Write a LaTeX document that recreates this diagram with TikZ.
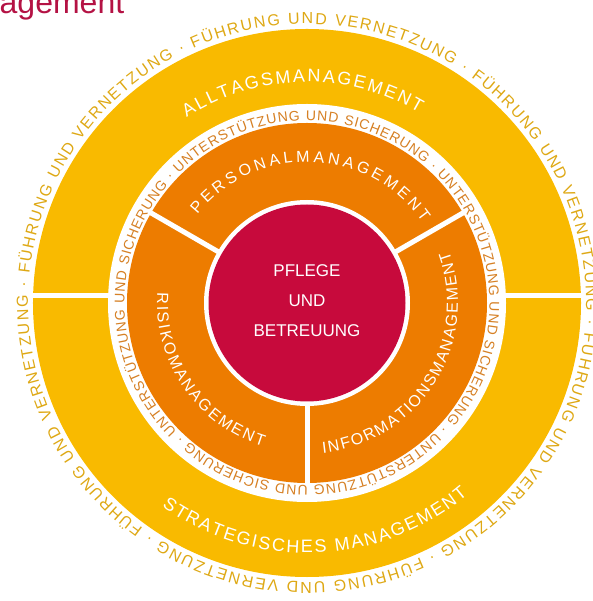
\documentclass[tikz,border=0pt]{standalone}
\usepackage{fontspec}
\setmainfont{Liberation Sans}
\usetikzlibrary{decorations.text}
\definecolor{ringyellow}{RGB}{249,186,0}
\definecolor{ringorange}{RGB}{237,124,0}
\definecolor{corered}{RGB}{199,10,60}
\definecolor{titlered}{RGB}{180,18,68}
\definecolor{outertext}{RGB}{222,168,20}
\definecolor{bandtext}{RGB}{214,128,36}
\begin{document}
\begin{tikzpicture}[x=1pt,y=1pt,
  divider/.style={draw=white,line width=5pt},
  arctext/.style={decorate,decoration={text along path,text align={fit to path},text={#1}}},
  centertext/.style={text=white,font=\fontsize{17}{20}\selectfont,inner sep=0pt,anchor=base},
]
\useasboundingbox (-307,-298) rectangle (285,303);
\clip (-307,-298) rectangle (285,303);

% heading fragment
\node[anchor=base west,inner sep=0pt,text=titlered,font=\fontsize{32}{36}\selectfont] (title) at (-307.5,289) {agement};

% rings
\fill[ringyellow] (0,0) circle[radius=274];
\fill[white] (0,0) circle[radius=199];
\fill[ringorange] (0,0) circle[radius=180];
\fill[white] (0,0) circle[radius=103];
\fill[corered] (0,0) circle[radius=98.5];

% separators
\draw[divider] (-276,7.5) -- (-197,7.5);
\draw[divider] (197,7.5) -- (276,7.5);
\foreach \a in {30,150,270} \draw[divider] (\a:100) -- (\a:182);

% running texts around the rings (the arcs stop one word gap short of a full turn)
\path[arctext={|\fontsize{16}{19}\selectfont\color{outertext}|· FÜHRUNG UND VERNETZUNG · FÜHRUNG UND VERNETZUNG · FÜHRUNG UND VERNETZUNG · FÜHRUNG UND VERNETZUNG · FÜHRUNG UND VERNETZUNG · FÜHRUNG UND VERNETZUNG}]
  (56.7:279) arc[start angle=56.7,end angle=-301.5,radius=279];
\path[arctext={|\fontsize{14}{17}\selectfont\color{bandtext}|· UNTERSTÜTZUNG UND SICHERUNG · UNTERSTÜTZUNG UND SICHERUNG · UNTERSTÜTZUNG UND SICHERUNG · UNTERSTÜTZUNG UND SICHERUNG}]
  (138:182.5) arc[start angle=138,end angle=-220.2,radius=182.5];

% ring labels
\path[arctext={|\fontsize{18}{21}\selectfont\color{white}|ALLTAGSMANAGEMENT}]
  (123:221) arc[start angle=123,end angle=59.5,radius=221];
\path[arctext={|\fontsize{18}{21}\selectfont\color{white}|STRATEGISCHES MANAGEMENT}]
  (-125.5:250) arc[start angle=-125.5,end angle=-50,radius=250];
\path[arctext={|\fontsize{16}{19}\selectfont\color{white}|PERSONALMANAGEMENT}]
  (141:141) arc[start angle=141,end angle=35,radius=141];
\path[arctext={|\fontsize{16}{19}\selectfont\color{white}|RISIKOMANAGEMENT}]
  (176:150) arc[start angle=176,end angle=253,radius=150];
\path[arctext={|\fontsize{16}{19}\selectfont\color{white}|INFORMATIONSMANAGEMENT}]
  (-84:151) arc[start angle=-84,end angle=20,radius=151];

% core
\node[centertext] (pflege) at (0,26) {PFLEGE};
\node[centertext] (und) at (0,-4) {UND};
\node[centertext] (betreuung) at (0,-34) {BETREUUNG};
\end{tikzpicture}
\end{document}
